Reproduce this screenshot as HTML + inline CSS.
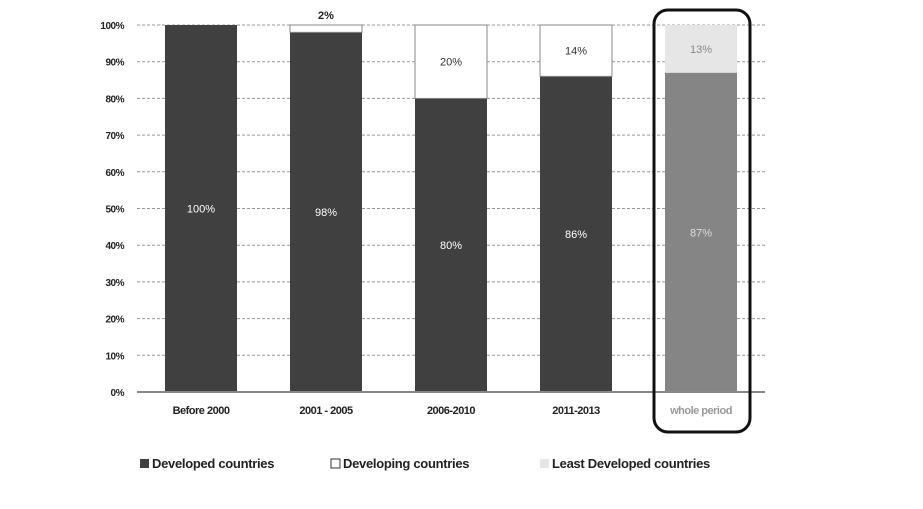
<!DOCTYPE html>
<html><head><meta charset="utf-8"><style>
body{margin:0;background:#fff;font-family:"Liberation Sans",sans-serif}
svg text{font-family:"Liberation Sans",sans-serif}
</style></head><body>
<svg width="923" height="504" id="c"></svg>
<script>
const categories=["Before 2000","2001 - 2005","2006-2010","2011-2013","whole period"];
const developed=[100,98,80,86,87];
const developing=[0,2,20,14,0];
const leastDeveloped=[0,0,0,0,13];
const tickLabels=["0%","10%","20%","30%","40%","50%","60%","70%","80%","90%","100%"];
const ns="http://www.w3.org/2000/svg";
const svg=document.getElementById("c");
const y0=392,y100=25;
const y=v=>y0-(y0-y100)*v/100;
const x=i=>165+i*125;
const bw=72;
function mk(t,a,txt){const e=document.createElementNS(ns,t);for(const k in a)e.setAttribute(k,a[k]);if(txt!==undefined)e.textContent=txt;svg.appendChild(e);return e;}
tickLabels.forEach((l,i)=>{
  const v=i*10;
  if(i>0){const g=mk("line",{x1:137,x2:765,y1:y(v),y2:y(v),stroke:"#999","stroke-dasharray":"3,2","stroke-width":1});
  
  }
  const t=mk("text",{x:124,y:y(v)+4,"text-anchor":"end","font-size":10,"font-weight":"bold",fill:"#222","letter-spacing":"-0.5"},l);
  
  
});
categories.forEach((c,i)=>{
  const whole=i===4;
  let base=0;
  const segs=[[developed[i],whole?"#858585":"#404040",whole?"#ddd":"#fff","developed"],[developing[i],"#fff","#333","developing"],[leastDeveloped[i],"#e6e6e6","#888","least-developed"]];
  segs.forEach(s=>{
    if(s[0]<=0)return;
    const r=mk("rect",{x:x(i),y:y(base+s[0]),width:bw,height:y(base)-y(base+s[0]),fill:s[1],stroke:s[3]==="developing"?"#888":"none","stroke-width":1});
    
    
    let ty=(y(base)+y(base+s[0]))/2+4, fw="normal";
    if(s[0]<5){ty=y(base+s[0])-6;fw="bold";}
    const t=mk("text",{x:x(i)+bw/2,y:ty,"text-anchor":"middle","font-size":11,fill:s[0]<5?"#222":s[2],"font-weight":fw},s[0]+"%");
    
    
    base+=s[0];
  });
  const cl=mk("text",{x:x(i)+bw/2,y:414,"text-anchor":"middle","font-size":11,"font-weight":"bold",fill:whole?"#999":"#222","letter-spacing":"-0.5"},c);
  
  
});
const ax=mk("line",{x1:137,x2:765,y1:y0,y2:y0,stroke:"#888","stroke-width":2});


const hl=mk("rect",{x:654,y:10,width:96,height:422,rx:14,fill:"none",stroke:"#111","stroke-width":3});


const leg=[["Developed countries","#404040",140],["Developing  countries","#fff",331],["Least Developed  countries","#e6e6e6",540]];
leg.forEach(l=>{
  const r=mk("rect",{x:l[2],y:459,width:9,height:9,fill:l[1],stroke:l[1]==="#fff"?"#333":"none"});
  
  
  const t=mk("text",{x:l[2]+12,y:468,"font-size":13,"font-weight":"bold",fill:"#222","letter-spacing":"-0.3"},l[0]);
  
  
});
</script>
</body></html>
